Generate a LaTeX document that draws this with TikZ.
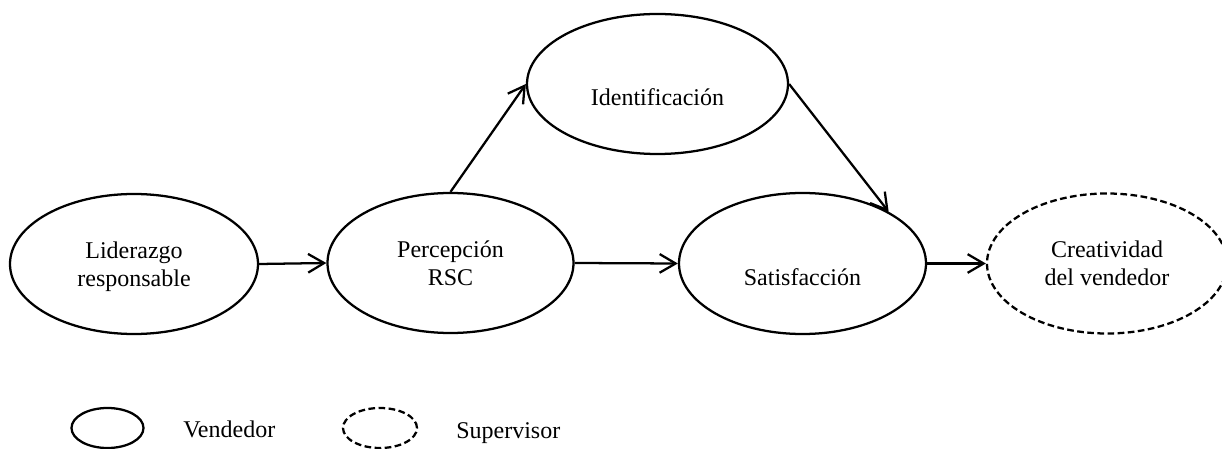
\documentclass[tikz,border=0pt]{standalone}
\usepackage{fontspec}
\setmainfont{Liberation Serif}
\usetikzlibrary{arrows.meta,shapes.geometric}
\tikzset{
  ell/.style={ellipse, draw=black, line width=1.7pt, inner sep=0pt},
  sup/.style={ell, dash pattern=on 5pt off 2.6pt},
  lbl/.style={font=\fontsize{18}{20.7}\selectfont, align=center, inner sep=0pt},
  conn/.style={line width=1.7pt, -{Straight Barb[length=12pt,width=14pt,line width=1.7pt]}}
}
\begin{document}
\begin{tikzpicture}[x=0.75pt,y=-0.75pt]
\useasboundingbox (0,0) rectangle (1222,449);
% ellipses (sizes in pt: 2*r*0.75)
\node[ell, minimum width=186pt, minimum height=105pt] (lid) at (134,264) {};
\node[ell, minimum width=184.5pt, minimum height=105pt] (perc) at (450.5,263) {};
\node[ell, minimum width=195.75pt, minimum height=105pt] (ident) at (657.5,84) {};
\node[ell, minimum width=185.25pt, minimum height=105.75pt] (satis) at (802.5,263.5) {};
\node[sup, minimum width=180pt, minimum height=105pt] (creat) at (1107,263.5) {};
% texts
\node[lbl] (lidt) at (134,267) {Liderazgo\\responsable};
\node[lbl] (perct) at (450.5,263.5) {Percepción\\RSC};
\node[lbl, anchor=base] (identt) at (657.5,106) {Identificación};
\node[lbl, anchor=base] (satist) at (802.5,286) {Satisfacción};
\node[lbl] (creatt) at (1107,263.5) {Creatividad\\del vendedor};
% connectors
\draw[conn] (lid.east) -- (perc.west);
\draw[conn] (perc.east) -- (satis.west);
\draw[conn] (satis.east) -- (creat.west);
\draw[conn] (perc.north) -- (ident.west);
\draw[conn] (ident.east) -- (satis.31);
% legend
\node[ell, minimum width=54pt, minimum height=30pt] (legv) at (107.5,428) {};
\node[sup, minimum width=55.5pt, minimum height=30pt] (legs) at (380,428) {};
\node[lbl, anchor=base west] (legvt) at (183,437) {Vendedor};
\node[lbl, anchor=base west] (legst) at (456,438) {Supervisor};
\end{tikzpicture}
\end{document}
